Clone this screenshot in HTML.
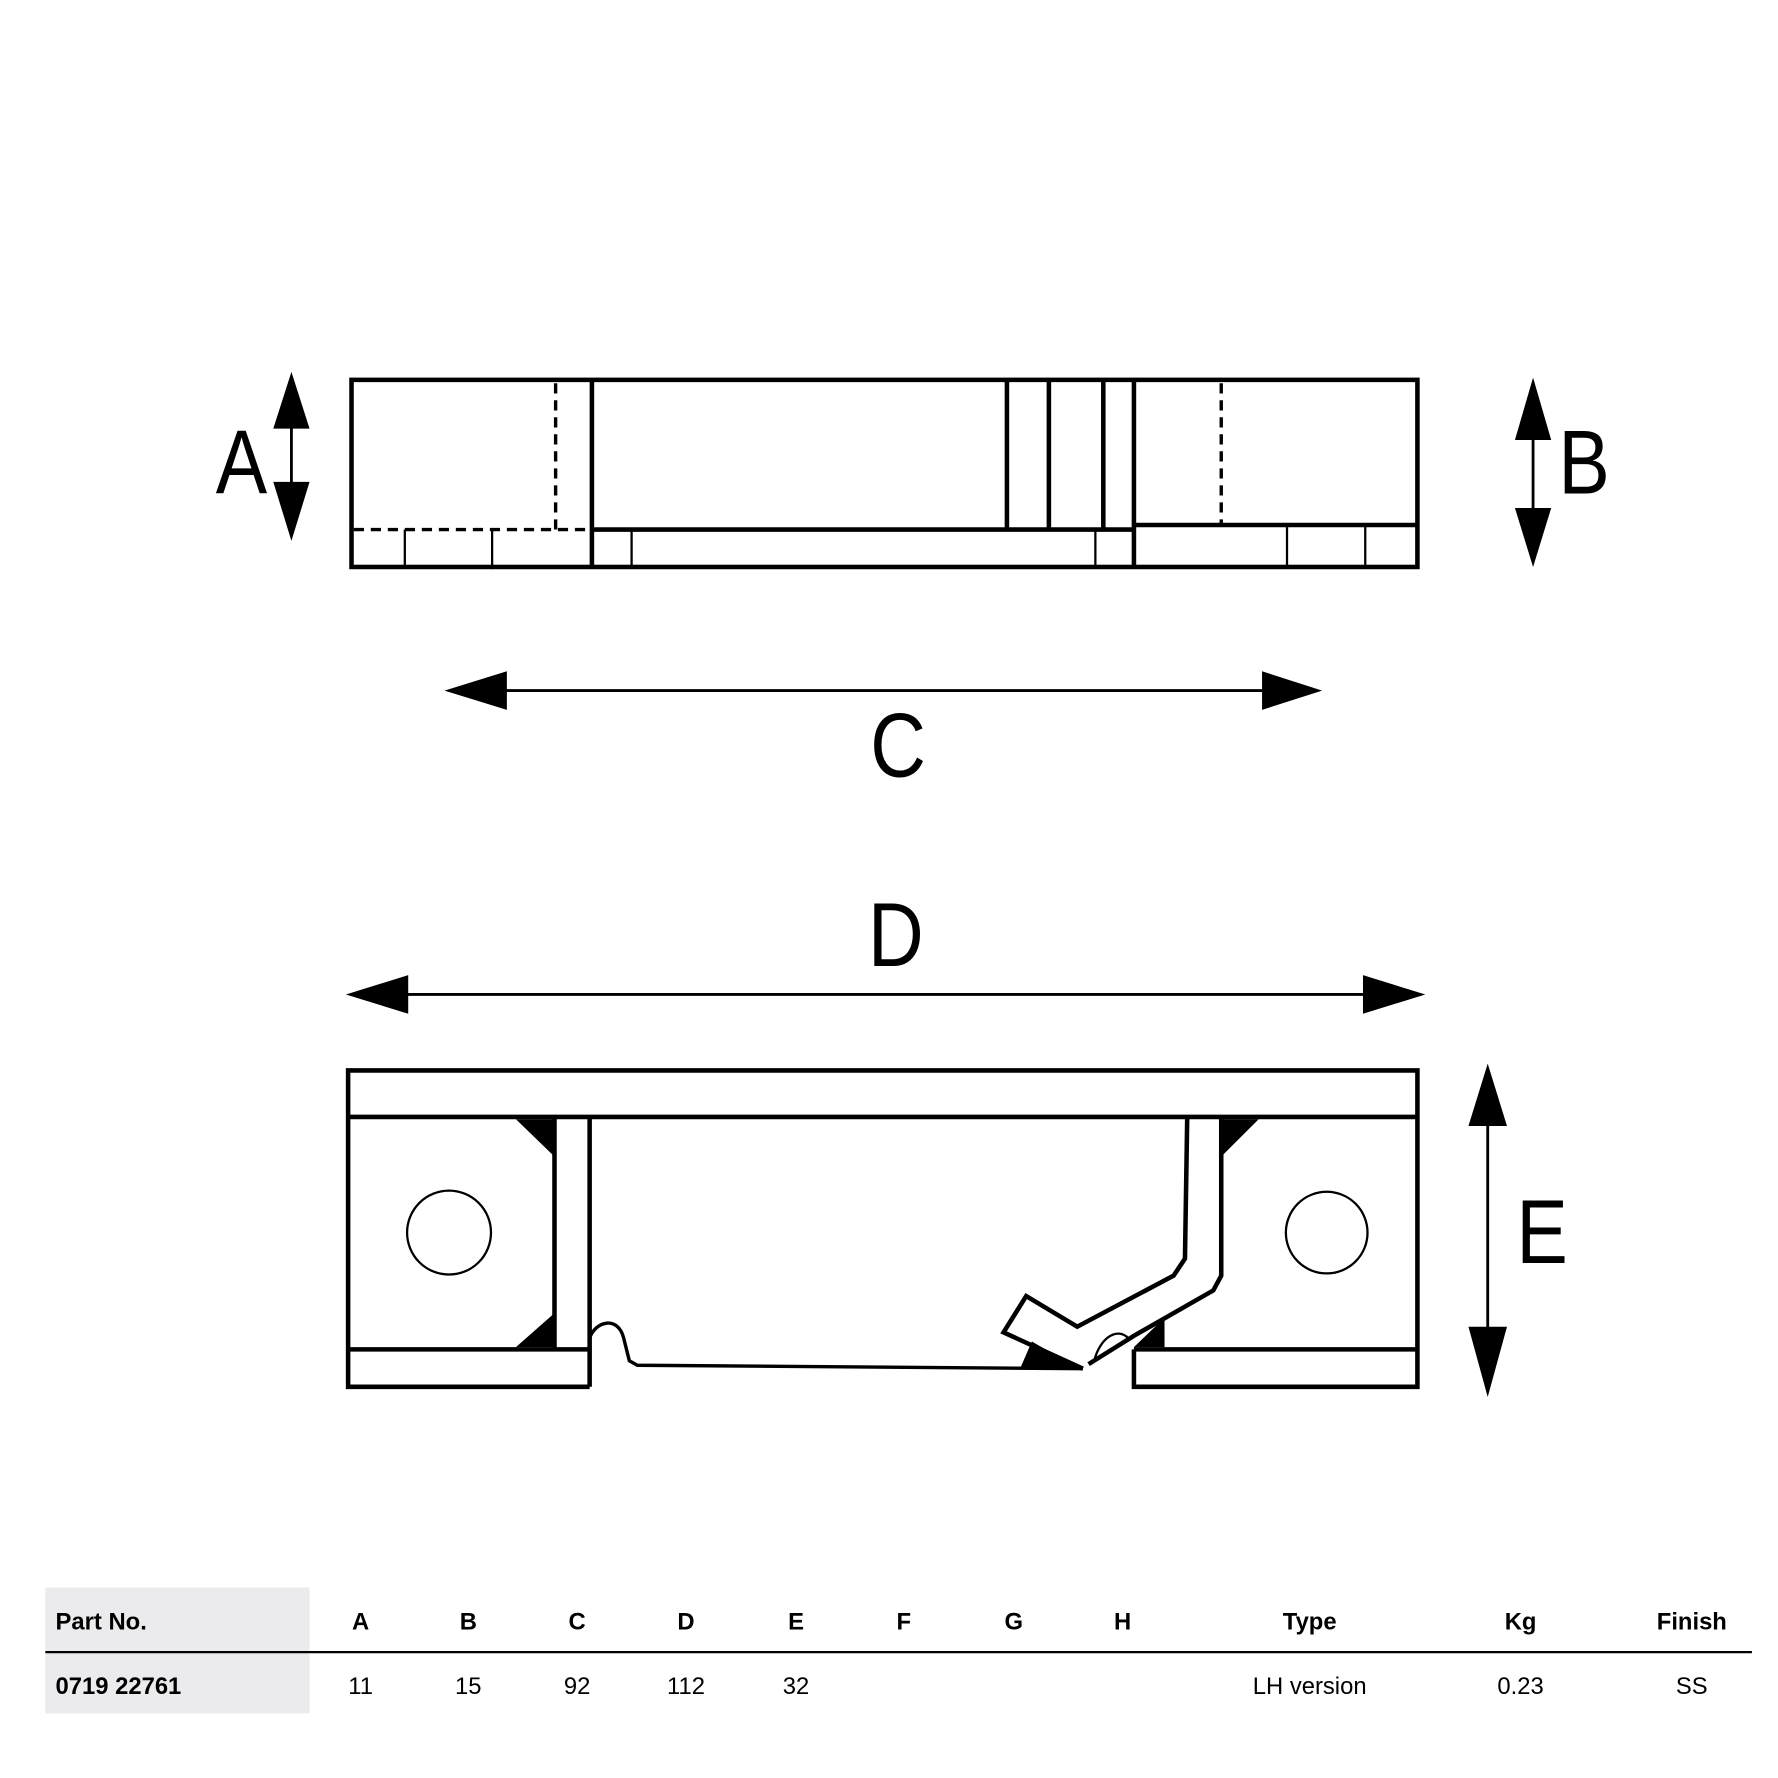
<!DOCTYPE html>
<html><head><style>html,body{margin:0;padding:0;background:#fff}svg{display:block}</style></head>
<body>
<svg width="1778" height="1778" viewBox="0 0 1568 1568" xmlns="http://www.w3.org/2000/svg" font-family="Liberation Sans, sans-serif">
<g fill="none" stroke="#000" stroke-width="4">
<rect x="310" y="335" width="940" height="165"/>
<line x1="522" y1="335" x2="522" y2="500"/>
<line x1="522" y1="467" x2="1000" y2="467"/>
<line x1="888" y1="335" x2="888" y2="467"/>
<line x1="925" y1="335" x2="925" y2="467"/>
<line x1="973" y1="335" x2="973" y2="467"/>
<line x1="1000" y1="335" x2="1000" y2="500"/>
<line x1="1000" y1="463" x2="1250" y2="463"/>
<g stroke-width="2">
<line x1="357" y1="467" x2="357" y2="500"/><line x1="434" y1="467" x2="434" y2="502"/>
<line x1="557" y1="467" x2="557" y2="500"/><line x1="966" y1="467" x2="966" y2="500"/>
<line x1="1135" y1="463" x2="1135" y2="500"/><line x1="1204" y1="463" x2="1204" y2="500"/>
</g>
<g stroke-dasharray="9,6" stroke-width="3">
<line x1="490" y1="338" x2="490" y2="467"/>
<line x1="312" y1="467" x2="522" y2="467"/>
<line x1="1077" y1="338" x2="1077" y2="463"/>
</g>
<path d="M520 1223 L307 1223 L307 944 L1250 944 L1250 1223 L1000 1223 L1000 1190"/>
<line x1="307" y1="985" x2="1250" y2="985"/>
<line x1="307" y1="1190" x2="520" y2="1190"/>
<line x1="1000" y1="1190" x2="1250" y2="1190"/>
<line x1="489" y1="985" x2="489" y2="1190"/>
<line x1="520" y1="985" x2="520" y2="1223"/>
<path d="M1047 985 L1045 1110 L1035 1125 L950 1170 L905 1143 L885 1175 L955 1207"/>
<path d="M1077 985 L1077 1125 L1070 1138 L1000 1178 L960 1203"/>
<path d="M520 1180 C525 1165 545 1160 550 1180 L555 1200 L562 1204 L955 1207" stroke-width="3"/>
<path d="M965 1200 C970 1180 985 1170 995 1180" stroke-width="2"/>
</g>
<g fill="none" stroke="#000" stroke-width="2">
<circle cx="396" cy="1087" r="37"/>
<circle cx="1170" cy="1087" r="36"/>
</g>
<g fill="#000">
<polygon points="455,987 489,987 489,1020"/>
<polygon points="455,1188 489,1188 489,1158"/>
<polygon points="1077,987 1110,987 1077,1020"/>
<polygon points="1000,1188 1027,1188 1027,1162"/>
<polygon points="900,1206 950,1206 910,1183"/>
</g>
<g stroke="#000" stroke-width="2.5">
<line x1="257" y1="345" x2="257" y2="460"/>
<line x1="1352" y1="350" x2="1352" y2="485"/>
<line x1="420" y1="609" x2="1140" y2="609"/>
<line x1="335" y1="877" x2="1230" y2="877"/>
<line x1="1312" y1="960" x2="1312" y2="1210"/>
</g>
<g fill="#000">
<polygon points="257,328 241,378 273,378"/><polygon points="257,477 241,425 273,425"/>
<polygon points="1352,333 1336,388 1368,388"/><polygon points="1352,500 1336,448 1368,448"/>
<polygon points="392,609 447,592 447,626"/><polygon points="1166,609 1113,592 1113,626"/>
<polygon points="305,877 360,860 360,894"/><polygon points="1257,877 1202,860 1202,894"/>
<polygon points="1312,938 1295,993 1329,993"/><polygon points="1312,1232 1295,1170 1329,1170"/>
</g>
<g font-size="80" fill="#000" text-anchor="middle">
<text transform="translate(213 435) scale(0.85 1)">A</text>
<text transform="translate(1397 435) scale(0.85 1)">B</text>
<text transform="translate(792 685) scale(0.85 1)">C</text>
<text transform="translate(790 852) scale(0.85 1)">D</text>
<text transform="translate(1360 1114) scale(0.85 1)">E</text>
</g>
<rect x="40" y="1400" width="233" height="111" fill="#ebebed"/>
<line x1="40" y1="1457" x2="1545" y2="1457" stroke="#000" stroke-width="2"/>
<g font-size="21" fill="#000" font-weight="bold" text-anchor="middle">
<text x="49" y="1437" text-anchor="start">Part No.</text>
<text x="318" y="1437">A</text><text x="413" y="1437">B</text><text x="509" y="1437">C</text>
<text x="605" y="1437">D</text><text x="702" y="1437">E</text><text x="797" y="1437">F</text>
<text x="894" y="1437">G</text><text x="990" y="1437">H</text><text x="1155" y="1437">Type</text>
<text x="1341" y="1437">Kg</text><text x="1492" y="1437">Finish</text>
<text x="49" y="1494" text-anchor="start">0719 22761</text>
</g>
<g font-size="21" fill="#000" text-anchor="middle">
<text x="318" y="1494">11</text><text x="413" y="1494">15</text><text x="509" y="1494">92</text>
<text x="605" y="1494">112</text><text x="702" y="1494">32</text>
<text x="1155" y="1494">LH version</text><text x="1341" y="1494">0.23</text><text x="1492" y="1494">SS</text>
</g>
</svg>
</body></html>
